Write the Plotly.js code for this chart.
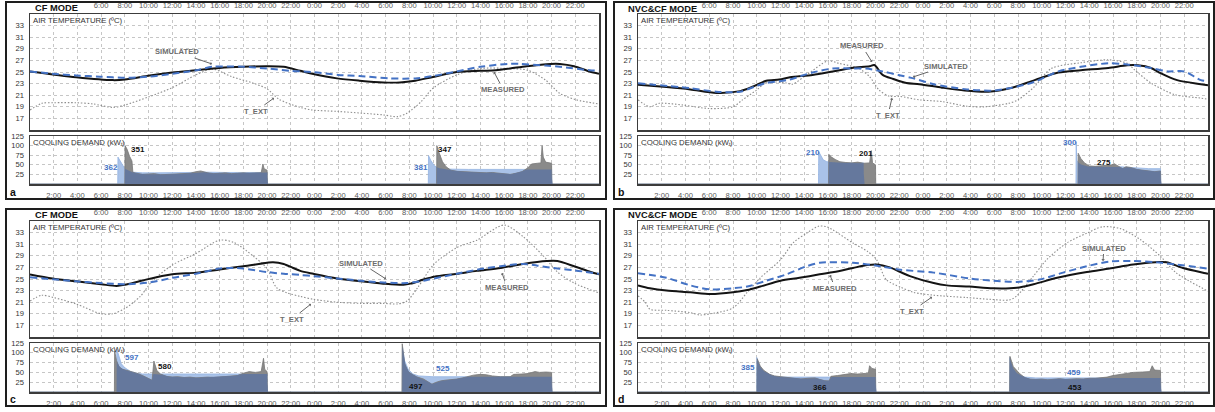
<!DOCTYPE html>
<html><head><meta charset="utf-8">
<script src="https://cdn.plot.ly/plotly-3.0.1.min.js"></script>
<style>html,body{margin:0;padding:0;background:#fff;}#chart{width:1215px;height:412px;}</style>
</head><body><div id="chart"></div>
<script>
// ---------- tick labels ----------
const tickHours = [2,4,6,8,10,12,14,16,18,20,22,24,26,28,30,32,34,36,38,40,42,44,46];
const bottomLabels = ['2:00','4:00','6:00','8:00','10:00','12:00','14:00','16:00','18:00','20:00','22:00','0:00','2:00','4:00','6:00','8:00','10:00','12:00','14:00','16:00','18:00','20:00','22:00'];
const topHours = [6,8,10,12,14,16,18,20,22,24,26,28,30,32,34,36,38,40,42,44,46];
const topLabels = ['6:00','8:00','10:00','12:00','14:00','16:00','18:00','20:00','22:00','0:00','2:00','4:00','6:00','8:00','10:00','12:00','14:00','16:00','18:00','20:00','22:00'];
const tempTicks = [17,19,21,23,25,27,29,31,33];
const coolTicks = [25,50,75,100,125];
const panelTitles = ['CF MODE','NVC&CF MODE','CF MODE','NVC&CF MODE'];
const panelLetters = ['a','b','c','d'];

// ---------- panel a (CF mode) temperatures [hour, degC] ----------
const a_meas = [[0,25.1],[3.9,24.1],[7,23.6],[8,23.7],[10.1,24.4],[12,24.9],[14,25.3],[16,25.7],[18,25.9],[20,26.0],[21.4,25.9],[22.8,25.2],[23.8,24.7],[25.9,23.9],[27.8,23.5],[29.8,23.2],[31.2,23.2],[32.5,23.5],[33.9,24.1],[36,25.0],[38,25.2],[39.3,25.3],[40.5,25.6],[41.9,26.0],[43.9,26.4],[44.7,26.4],[45.9,26.0],[47.2,25.1],[48,24.7]];
const a_sim = [[0,25.1],[1.9,24.7],[3.9,24.4],[5.9,24.2],[8,24.0],[10.1,24.2],[12,24.7],[14,25.3],[15.4,25.9],[18,25.9],[20,25.6],[22,25.2],[23.8,25.0],[26,24.5],[27.8,24.3],[30.3,23.9],[32.5,23.9],[34,24.3],[36,25.1],[38,25.9],[40.3,26.4],[41.3,26.4],[43.5,26.1],[44.7,25.9],[47.2,25.3],[48,25.2]];
const a_text = [[0,18.45],[1,19.6],[2,19.7],[3.9,19.7],[5.3,19.5],[7,18.9],[8,19.3],[10,20.7],[12,22.3],[14,24.5],[15.4,25.5],[17,24.2],[18.8,23.1],[20,22.1],[21,20.3],[22.8,18.9],[23.8,18.45],[26,18.2],[28,17.9],[29.8,17.6],[31,17.3],[31.8,17.9],[33,19.9],[34,22.2],[36,24.5],[38,25.6],[40.3,25.6],[42,25.3],[43.5,23.6],[44.7,21.3],[46.1,20.2],[48,19.5]];
// panel a cooling demand [hour, kW]
const a_coolSim = [[0,0],[7.4,0],[7.42,70],[7.6,62],[7.8,50],[8.0,40],[8.3,34],[8.6,31],[9.5,29],[10.5,29],[11.5,29],[12.5,29],[13.5,30],[14.5,31],[15.5,30],[16.5,30],[17.5,30],[18.5,30],[19.5,30],[20,30],[20.02,0],[33.6,0],[33.62,74],[33.8,62],[34.1,48],[34.4,42],[35,39],[36,38],[37,38],[38,38],[39,38],[40,38],[41,38],[42,38],[43,38],[44,38],[44.02,0],[48,0]];
const a_coolMeas = [[0,0],[8.0,0],[8.02,100],[8.2,90],[8.4,72],[8.6,60],[8.68,30],[9.0,28],[9.5,25],[10,26],[10.5,27],[11,24],[11.5,25],[12,26],[12.5,26],[13,27],[13.5,28],[14,32],[14.4,34],[15,29],[15.5,27],[16,28],[16.5,29],[17,27],[17.5,28],[18,29],[18.5,28],[19,29],[19.5,29],[19.65,52],[19.75,40],[20,36],[20.02,0],[34.3,0],[34.32,100],[34.5,82],[34.8,58],[35.1,45],[35.5,36],[36,33],[36.5,32],[37,31],[37.5,31],[38,30],[38.5,29],[39,30],[39.5,28],[40,26],[40.5,25],[41,28],[41.5,32],[42,42],[42.3,52],[42.8,54],[43.1,55],[43.2,100],[43.3,70],[43.5,57],[44,54],[44.02,0],[48,0]];

// ---------- panel b (NVC&CF mode) ----------
const b_meas = [[0,22.8],[2.4,22.4],[4.4,22.0],[6.6,21.4],[8.6,21.7],[9.7,22.5],[10.8,23.5],[11.9,23.7],[12.8,24.1],[14.7,24.5],[16.4,25.1],[18,25.7],[19.5,26.0],[19.9,26.2],[20.6,24.5],[21.5,23.8],[22.6,23.1],[23.7,22.9],[25.6,22.3],[27.5,21.8],[29.5,21.6],[31.5,22.3],[33.4,23.6],[35.4,24.9],[37.3,25.3],[39.6,25.7],[41.2,26.15],[42.1,26.15],[43.2,25.7],[44,24.8],[45.4,23.6],[47.4,22.9],[48,22.7]];
const b_sim = [[0,23.05],[4.4,22.2],[6.6,21.6],[8.6,21.6],[10,22.6],[10.8,23.1],[12.8,23.7],[13.7,24.3],[14.7,24.9],[16.4,25.6],[18,25.6],[19.2,25.6],[20.6,25.1],[21.9,24.5],[23.2,23.9],[24.9,22.9],[27.7,22.0],[29.9,21.8],[31.5,22.3],[33.4,23.3],[35.4,25.1],[37.3,25.9],[39.6,26.5],[41.2,26.3],[43.2,25.7],[44.6,25.1],[46,25.1],[47.4,23.6],[48,23.4]];
const b_text = [[0,20.2],[1,19.0],[1.8,19.6],[3.8,19.3],[6,18.7],[8,19.0],[8.8,20.2],[10,21.9],[10.8,23.2],[12.5,23.1],[13,22.9],[14.2,24.5],[16,26.9],[16.9,26.5],[18.6,25.6],[19.5,24.2],[20.3,21.9],[21.2,20.8],[22,20.8],[23.7,20.2],[25.6,19.9],[27.7,19.1],[29.2,19.0],[31.2,19.6],[32,20.2],[33.4,22.5],[34.8,25.6],[37.3,26.6],[39.6,27.1],[41.2,26.5],[41.8,25.4],[43.2,23.1],[45.2,21.1],[47.4,20.5],[48,20.3]];
const b_coolSim = [[0,0],[15.2,0],[15.22,84],[15.4,72],[15.6,63],[15.9,58],[16.5,56],[17,55],[17.5,55],[18,55],[18.5,55],[19.0,55],[19.02,0],[36.88,0],[36.9,110],[36.95,62],[37.2,52],[37.6,47],[38,45],[39,45],[40,46],[41,44],[42,42],[43,40],[44,40],[44.02,0],[48,0]];
const b_coolMeas = [[0,0],[16.05,0],[16.07,77],[16.3,70],[16.6,64],[17,58],[17.5,56],[18,55],[18.5,57],[19,54],[19.5,55],[19.65,87],[19.75,55],[20,50],[20.02,0],[37.05,0],[37.07,80],[37.3,66],[37.6,55],[38,47],[38.5,46],[39,47],[39.5,48],[39.9,50],[40.1,53],[40.4,47],[40.8,40],[41.1,45],[41.5,43],[42,38],[42.5,36],[43,33],[43.5,32],[44,34],[44.02,0],[48,0]];

// ---------- panel c (CF mode) ----------
const c_meas = [[0,25.8],[1.9,25.1],[3.9,24.6],[6,24.1],[7.3,23.8],[8,24.0],[9.6,24.8],[12,25.8],[14,26.1],[16,26.65],[18,27.2],[20,27.8],[20.5,27.9],[21.4,27.6],[22.2,26.9],[22.8,26.4],[23.9,25.9],[25.9,25.1],[27.9,24.6],[29.8,24.2],[31.5,24.0],[32.1,24.2],[33.2,24.9],[34.1,25.4],[36,25.9],[37.7,26.4],[39.7,26.9],[41.6,27.6],[43.6,28.1],[44.5,28.1],[45.9,27.2],[47.3,26.2],[48,25.8]];
const c_sim = [[0,25.3],[3.9,24.6],[6,24.3],[8,24.1],[10.1,24.4],[12,25.2],[14,25.9],[16,26.8],[17.2,26.9],[18,26.8],[20,26.2],[21.4,25.9],[22.8,25.7],[23.9,25.5],[25.9,25.1],[27.9,24.7],[29.8,24.4],[31.8,24.3],[33.2,24.7],[34.1,25.1],[36,25.9],[37.7,26.6],[39.7,27.2],[41.6,27.6],[42.8,27.3],[44.5,26.8],[45.9,26.5],[48,25.9]];
const c_text = [[0,21.2],[1,22.2],[2,21.8],[3.9,20.7],[6,19.0],[7,19.0],[8,19.9],[9.3,22.0],[10.3,24.6],[12,27.4],[14,29.4],[16,31.7],[17.2,31.3],[18.8,29.0],[20,26.8],[20.8,23.5],[21.7,22.6],[22.8,22.0],[23.9,21.5],[25.9,21.0],[27.9,20.8],[29.8,20.8],[31,20.7],[31.8,21.2],[32.7,23.5],[34.1,27.6],[36,30.4],[37.7,31.7],[40,34.3],[41.6,32.3],[43.3,29.0],[44.5,26.2],[45.9,24.3],[48,22.6]];
const c_coolSim = [[0,0],[7.3,0],[7.32,110],[7.5,90],[7.7,72],[8.0,62],[8.5,52],[9,48],[9.5,46],[10,46],[11,46],[12,46],[13,46],[14,46],[15,46],[16,46],[17,46],[18,46],[19,46],[20,46],[20.02,0],[31.4,0],[31.42,115],[31.6,80],[31.9,58],[32.3,46],[32.8,41],[33.5,39],[34,39],[35,39],[36,39],[37,39],[38,39],[39,39],[40,39],[41,39],[42,39],[43,39],[44,39],[44.02,0],[48,0]];
const c_coolMeas = [[0,0],[7.12,0],[7.14,105],[7.3,80],[7.5,65],[7.8,58],[8.2,55],[8.6,52],[9,48],[9.5,42],[10,35],[10.3,30],[10.45,79],[10.7,55],[11,46],[11.5,40],[12,38],[12.5,39],[13,37],[13.5,38],[14,36],[14.5,37],[15,38],[15.5,37],[16,38],[16.5,39],[17,40],[17.5,42],[18,48],[18.5,52],[19,50],[19.5,52],[19.7,86],[19.8,58],[20,52],[20.02,0],[31.38,0],[31.4,123],[31.6,73],[31.9,52],[32.3,44],[32.6,39],[33.2,33],[33.6,25],[33.9,20],[34.2,24],[34.6,28],[35,30],[35.5,31],[36,33],[36.5,36],[37,40],[37.4,43],[38,45],[38.5,44],[39,41],[39.7,39],[40.5,39],[40.8,45],[41.5,46],[42,47],[42.6,52],[43,50],[43.5,51],[44,50],[44.02,0],[48,0]];

// ---------- panel d (NVC&CF mode) ----------
const d_meas = [[0,23.9],[1,23.4],[2.4,23.0],[4.4,22.7],[6.1,22.4],[8,22.7],[9.2,23.1],[10.3,23.7],[12,24.7],[13.6,25.2],[15.3,25.8],[16.5,26.2],[18.1,26.9],[19.3,27.4],[20.1,27.5],[21.2,27.0],[22.1,26.2],[22.9,25.5],[24.9,24.3],[26,23.9],[27.9,23.7],[29.9,23.4],[31.9,23.5],[33.3,24.1],[35.3,25.2],[37.8,26.2],[39.7,26.8],[41.7,27.5],[43.6,27.9],[44.5,27.9],[45.9,26.9],[47.8,26.0],[48,25.9]];
const d_sim = [[0,26.0],[2.4,25.2],[4.4,23.9],[6.1,23.2],[8,23.4],[9.2,23.7],[10.8,24.7],[12.5,25.8],[14.2,27.2],[15.3,27.8],[18.1,27.8],[20.4,27.2],[22.1,26.6],[24.9,26.1],[27.9,25.1],[29.9,24.7],[31.9,24.5],[33.8,24.9],[35.8,26.1],[37.8,27.2],[39.7,28.0],[41.7,28.1],[43.6,27.9],[45.3,27.5],[48,26.8]];
const d_text = [[0,22.1],[0.6,21.0],[1,19.8],[2.4,19.6],[4.4,19.2],[5.2,18.8],[6.1,19.0],[8,20.0],[9.2,22.7],[10.3,25.2],[12,28.3],[13.1,31.3],[14.2,32.9],[15.2,34.1],[15.9,34.0],[18.1,31.2],[19.3,29.8],[20.1,28.3],[20.9,24.9],[22.1,23.6],[23.2,22.7],[24.9,22.2],[27.7,21.8],[29.6,21.5],[31.3,21.4],[31.9,22.1],[33.3,25.5],[34.4,28.3],[36.1,31.2],[37.8,32.9],[39.1,34.0],[40.6,33.7],[42.3,31.8],[44,28.9],[45.3,26.1],[48,22.9]];
const d_coolSim = [[0,0],[9.98,0],[10.0,88],[10.2,68],[10.5,55],[11,45],[11.5,40],[12,38.5],[13,38],[14,38],[15,38],[16,38],[17,38],[18,38],[19,38],[20,38],[20.02,0],[31.28,0],[31.3,88],[31.5,65],[31.8,50],[32.2,42],[32.6,38],[33.5,36],[34.5,36],[36,36],[38,36],[40,36],[42,36],[44,36],[44.02,0],[48,0]];
const d_coolMeas = [[0,0],[10.02,0],[10.04,85],[10.3,66],[10.6,55],[11.1,45],[11.5,41],[12,39],[12.6,36],[13.2,34],[13.7,33],[14.3,35],[14.9,36],[15.3,32],[15.7,29],[16.1,28],[16.25,40],[16.8,42],[17.3,44],[17.9,47],[18.5,46],[19,47],[19.4,48],[19.5,67],[19.7,60],[20,58],[20.02,0],[31.3,0],[31.32,91],[31.6,65],[32.1,48],[32.6,36],[33,33],[33.5,32],[34,33],[34.5,31],[35,33],[35.5,34],[36,32],[36.5,33],[37,34],[37.5,33],[38,35],[38.5,35],[39,36],[39.5,38],[40,42],[40.5,44],[41,46],[41.7,50],[42.5,51],[43.1,52],[43.3,67],[43.5,56],[44,55],[44.02,0],[48,0]];

// daily totals printed on cooling plots: [hour, kW position, text]
const a_totals = {sim:[[6.8,42,'362'],[33.0,44,'381']], meas:[[9.1,91,'351'],[35.0,89,'347']]};
const b_totals = {sim:[[14.7,81,'210'],[36.4,107,'300']], meas:[[19.2,80,'201'],[39.2,57,'275']]};
const c_totals = {sim:[[8.6,89,'597'],[34.8,61,'525']], meas:[[11.4,65,'580'],[32.6,14,'497']]};
const d_totals = {sim:[[9.3,62,'385'],[36.7,49,'459']], meas:[[15.3,12,'366'],[36.8,12,'453']]};

// ---------- layout geometry (pixels) ----------
const W = 1215, H = 412;
const PX = x => x / W, PY = y => 1 - y / H;
const geo = [
  {x0:30, x1:599, t0:14, t1:130, c0:136, c1:184, box:[6,2,606,199], title:[35,8], letter:[13,192]},
  {x0:638, x1:1208, t0:14, t1:130, c0:136, c1:184, box:[614,2,1214,199], title:[628,9], letter:[621,192]},
  {x0:30, x1:599, t0:221, t1:337, c0:343, c1:392, box:[6,209,606,406], title:[35,215], letter:[13,399]},
  {x0:638, x1:1208, t0:221, t1:337, c0:343, c1:392, box:[614,209,1214,406], title:[628,215], letter:[621,399]}
];
const temps = [[a_meas,a_sim,a_text],[b_meas,b_sim,b_text],[c_meas,c_sim,c_text],[d_meas,d_sim,d_text]];
const cools = [[a_coolMeas,a_coolSim],[b_coolMeas,b_coolSim],[c_coolMeas,c_coolSim],[d_coolMeas,d_coolSim]];
const totals = [a_totals,b_totals,c_totals,d_totals];
// curve labels: [label, text px x, text px y, head px x, head px y]
const curveLabels = [
  [['SIMULATED',177,52,212,64],['T_EXT',256,111,274,98],['MEASURED',503,89,494,72]],
  [['MEASURED',862,46,872,62],['T_EXT',888,115,892,98],['SIMULATED',946,66,913,77]],
  [['SIMULATED',361,263,386,279],['T_EXT',292,319,311,304],['MEASURED',507,287,502,273]],
  [['MEASURED',835,288,830,275],['SIMULATED',1104,248,1103,261],['T_EXT',912,311,932,297]]
];

const FONT = 'Liberation Sans, Arial, sans-serif';
const BLUE = '#4472c4';
const LABEL_SIZE = 7.8, SUB_SIZE = 5.6;
const ctx = document.createElement('canvas').getContext('2d');
const measure = (s, size) => { ctx.font = size + 'px "Liberation Sans", Arial, sans-serif'; return ctx.measureText(s).width; };
const coolMain = 'COOLING DEMAND (kW';
const wMain = measure(coolMain, LABEL_SIZE), wSub = measure('t', SUB_SIZE);

const interp = (pts, t) => {
  if (t <= pts[0][0]) return pts[0][1];
  for (let i = 1; i < pts.length; i++) {
    if (t <= pts[i][0]) {
      const [t0,v0] = pts[i-1], [t1,v1] = pts[i];
      return t1 === t0 ? v1 : v0 + (v1 - v0) * (t - t0) / (t1 - t0);
    }
  }
  return pts[pts.length-1][1];
};

const traces = [], layout = {
  width: W, height: H, margin: {l:0,r:0,t:0,b:0}, showlegend: false,
  paper_bgcolor: '#fff', plot_bgcolor: '#fff', font: {family: FONT, size: 8, color: '#444'},
  annotations: [], shapes: []
};
const GRID = '#c6c6c6';
const minorX = {tickmode:'linear', tick0:0, dtick:2, showgrid:true, gridcolor:GRID, griddash:'dot', gridwidth:1, ticks:''};

geo.forEach((g, i) => {
  const nT = 2*i + 1, nC = 2*i + 2;
  const id = n => n === 1 ? '' : String(n);
  const xT = 'x' + id(nT), yT = 'y' + id(nT), xC = 'x' + id(nC), yC = 'y' + id(nC);
  const common = {showgrid: true, gridcolor: GRID, griddash: 'dot', gridwidth: 1, zeroline: false,
    showline: true, mirror: true, linecolor: '#3c3c3c', linewidth: 1.5, ticks: '', fixedrange: true,
    tickfont: {family: FONT, size: 7.6, color: '#5a5a5a'}};
  layout['xaxis' + id(nT)] = Object.assign({}, common, {domain:[PX(g.x0), PX(g.x1)], anchor: yT, side: 'top',
    range: [0,48], tickmode: 'array', tickvals: topHours, ticktext: topLabels, ticklabelstandoff: 1, minor: minorX});
  layout['yaxis' + id(nT)] = Object.assign({}, common, {domain:[PY(g.t1), PY(g.t0)], anchor: xT,
    range: [15,35], tickmode: 'array', tickvals: tempTicks, ticklabelstandoff: 3, tickfont:{family:FONT,size:7.6,color:'#333'}});
  layout['xaxis' + id(nC)] = Object.assign({}, common, {domain:[PX(g.x0), PX(g.x1)], anchor: yC, side: 'bottom',
    range: [0,48], tickmode: 'array', tickvals: tickHours, ticktext: bottomLabels, ticklabelstandoff: 3});
  layout['yaxis' + id(nC)] = Object.assign({}, common, {domain:[PY(g.c1), PY(g.c0)], anchor: xC,
    range: [0,125], tickmode: 'array', tickvals: coolTicks, ticklabelstandoff: 3, tickfont:{family:FONT,size:7.6,color:'#333'}});

  // temperature curves
  const [meas, sim, text] = temps[i];
  const line = (pts, style) => ({type:'scatter', mode:'lines', x: pts.map(p=>p[0]), y: pts.map(p=>p[1]),
    xaxis: xT, yaxis: yT, hoverinfo:'skip', line: Object.assign({shape:'spline', smoothing:0.8}, style)});
  traces.push(line(text, {color:'#8e8e8e', width:1.1, dash:'1.5px,1.8px'}));
  traces.push(line(meas, {color:'#141414', width:2}));
  traces.push(line(sim, {color:BLUE, width:2, dash:'7px,4px'}));

  // cooling areas
  const [cm, cs] = cools[i];
  const area = (pts, fill, lc, lw) => ({type:'scatter', mode:'lines', x: pts.map(p=>p[0]), y: pts.map(p=>p[1]),
    xaxis: xC, yaxis: yC, hoverinfo:'skip', fill:'tozeroy', fillcolor: fill, line:{color: lc, width: lw}});
  traces.push(area(cs, '#a9c2e8', '#93b2e2', 0.8));
  traces.push(area(cm, '#8a8a8a', '#777777', 0.8));
  const ts = new Set(cm.map(p=>p[0]).concat(cs.map(p=>p[0])));
  for (let k = 0; k <= 4800; k++) ts.add(k / 100);
  const tt = [...ts].sort((a,b)=>a-b);
  const ov = tt.map(t => [t, Math.min(interp(cm,t), interp(cs,t))]);
  traces.push(area(ov, '#65789d', '#65789d', 0));

  // panel box
  layout.shapes.push({type:'rect', xref:'paper', yref:'paper', x0:PX(g.box[0]), x1:PX(g.box[2]), y0:PY(g.box[3]), y1:PY(g.box[1]),
    line:{color:'#1e1e1e', width:2}, fillcolor:'rgba(0,0,0,0)'});

  const A = layout.annotations;
  const plain = (x, y, text, font, xanchor) => A.push({xref:'paper', yref:'paper', x:PX(x), y:PY(y), xanchor: xanchor || 'left',
    yanchor:'middle', showarrow:false, text, font, borderpad:0, borderwidth:0});
  plain(g.title[0], g.title[1], '<b>' + panelTitles[i].replace('&','&amp;') + '</b>', {family:FONT, size:9.3, color:'#111'});
  plain(g.letter[0], g.letter[1], '<b>' + panelLetters[i] + '</b>', {family:FONT, size:10.5, color:'#111'}, 'center');
  plain(g.x0 + 3, g.t0 + 6.5, 'AIR TEMPERATURE (ºC)', {family:FONT, size:LABEL_SIZE, color:'#333'});
  // cooling label with subscript t built from three pieces
  plain(g.x0 + 3, g.c0 + 6.5, coolMain, {family:FONT, size:LABEL_SIZE, color:'#333'});
  plain(g.x0 + 3 + wMain, g.c0 + 8.3, 't', {family:FONT, size:SUB_SIZE, color:'#333'});
  plain(g.x0 + 3 + wMain + wSub, g.c0 + 6.5, ')', {family:FONT, size:LABEL_SIZE, color:'#333'});
  curveLabels[i].forEach(([lab, tx, ty, hx, hy]) => {
    A.push({xref:'paper', yref:'paper', x:PX(hx), y:PY(hy), ax: tx - hx, ay: ty - hy, axref:'pixel', ayref:'pixel',
      text:'<b>' + lab + '</b>', showarrow:true, arrowhead:1, arrowsize:0.6, arrowwidth:1, arrowcolor:'#666',
      standoff:0, font:{family:FONT, size:7.6, color:'#6d6d6d'}});
  });
  totals[i].sim.forEach(([t,v,s]) => A.push({xref:xC, yref:yC, x:t, y:v, showarrow:false, text:'<b>'+s+'</b>',
    font:{family:FONT, size:8, color:BLUE}}));
  totals[i].meas.forEach(([t,v,s]) => A.push({xref:xC, yref:yC, x:t, y:v, showarrow:false, text:'<b>'+s+'</b>',
    font:{family:FONT, size:8, color:'#111'}}));
});

Plotly.newPlot('chart', traces, layout, {displayModeBar:false, staticPlot:true});
</script></body></html>
